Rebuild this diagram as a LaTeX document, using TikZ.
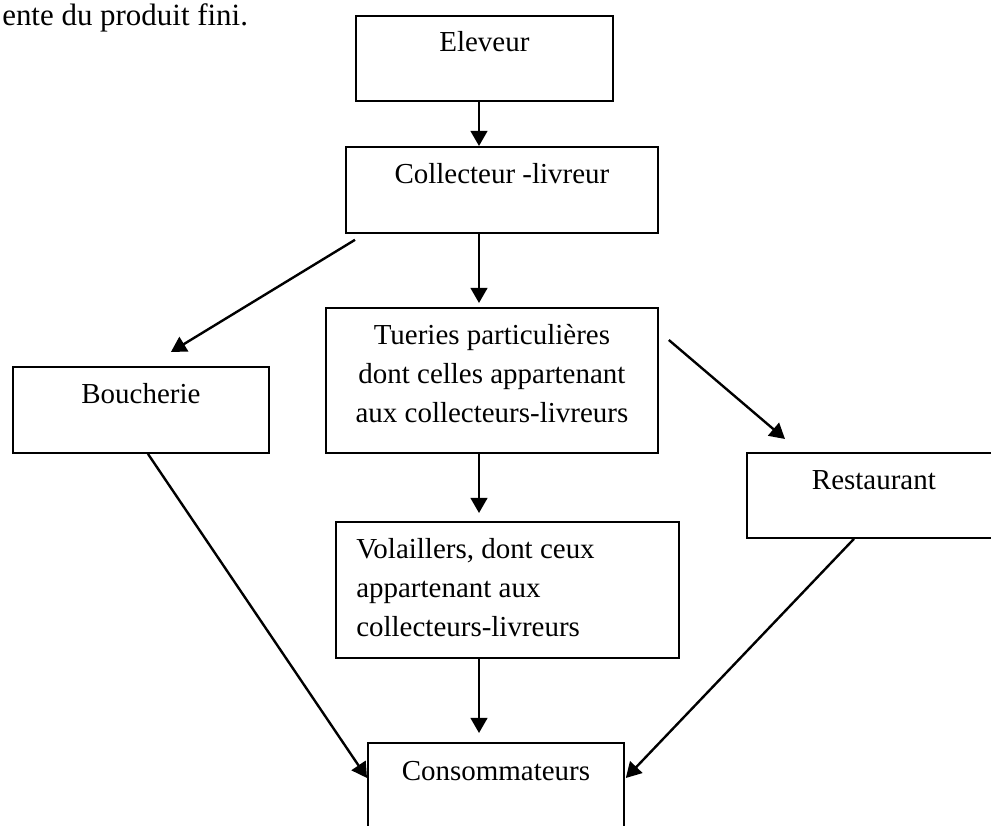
\documentclass[tikz,border=0pt]{standalone}
\usepackage{fontspec}
\setmainfont{Liberation Serif}
\usetikzlibrary{arrows.meta}

\def\pxu{0.025cm}
\tikzset{
  boite/.style 2 args={draw, line width=1.3pt, minimum width=#1*\pxu, minimum height=#2*\pxu, inner sep=0pt, anchor=north west},
  texte/.style={inner sep=0pt, font=\fontsize{20.6pt}{27.5pt}\selectfont},
  fleche/.style={line width=1.7pt, -{Triangle[length=3.8mm,width=4.2mm]}}
}

\begin{document}
\begin{tikzpicture}[x=\pxu, y=-\pxu]
	\useasboundingbox (0,0) rectangle (991,826);
	\clip (0,0) rectangle (991,826);
	\node[texte, font=\fontsize{22pt}{27pt}\selectfont, anchor=base west] (phrase) at (2,26) {ente du produit fini.};

	\node[boite={257}{85}] (eleveur) at (355,15) {};
	\node[boite={312}{86}] (collect) at (345,146) {};
	\node[boite={332}{145}] (tueries) at (325,307) {};
	\node[boite={256}{86}] (bouch) at (12,366) {};
	\node[boite={254}{85}] (resto) at (746,452) {};
	\node[boite={343}{136}] (volail) at (335,521) {};
	\node[boite={256}{90}] (conso) at (367,742) {};

	\node[texte, anchor=base] (eleveur-t) at ([shift={(0,37)}]eleveur.north) {Eleveur};
	\node[texte, anchor=base] (collect-t) at ([shift={(0,38)}]collect.north) {Collecteur -livreur};
	\node[texte, anchor=base, align=center] (tueries-t) at ([shift={(0,115)}]tueries.north) {Tueries particulières\\dont celles appartenant\\aux collecteurs-livreurs};
	\node[texte, anchor=base] (bouch-t) at ([shift={(0,37)}]bouch.north) {Boucherie};
	\node[texte, anchor=base] (resto-t) at ([shift={(0,37)}]resto.north) {Restaurant};
	\node[texte, anchor=base west, align=left] (volail-t) at ([shift={(21,115)}]volail.north west) {Volaillers, dont ceux\\appartenant aux\\collecteurs-livreurs};
	\node[texte, anchor=base] (conso-t) at ([shift={(0,38)}]conso.north) {Consommateurs};

	\coordinate (axe) at (479,0);
	\draw[fleche] (eleveur.south -| axe) -- (collect.north -| axe);
	\draw[fleche, shorten >=1mm] (collect.south -| axe) -- (tueries.north -| axe);
	\draw[fleche, shorten >=2mm] (tueries.south -| axe) -- (volail.north -| axe);
	\draw[fleche, shorten >=2.25mm] (volail.south -| axe) -- (conso.north -| axe);
	\draw[fleche] ([shift={(10,6)}]collect.south west) -- ([shift={(30,-14)}]bouch.north);
	\draw[fleche] ([shift={(10,33)}]tueries.north east) -- ([shift={(39,-13)}]resto.north west);
	\draw[fleche] ([shift={(7,0)}]bouch.south) -- ([shift={(0,36)}]conso.north west);
	\draw[fleche] ([shift={(108,0)}]resto.south west) -- ([shift={(1,36)}]conso.north east);
\end{tikzpicture}
\end{document}
